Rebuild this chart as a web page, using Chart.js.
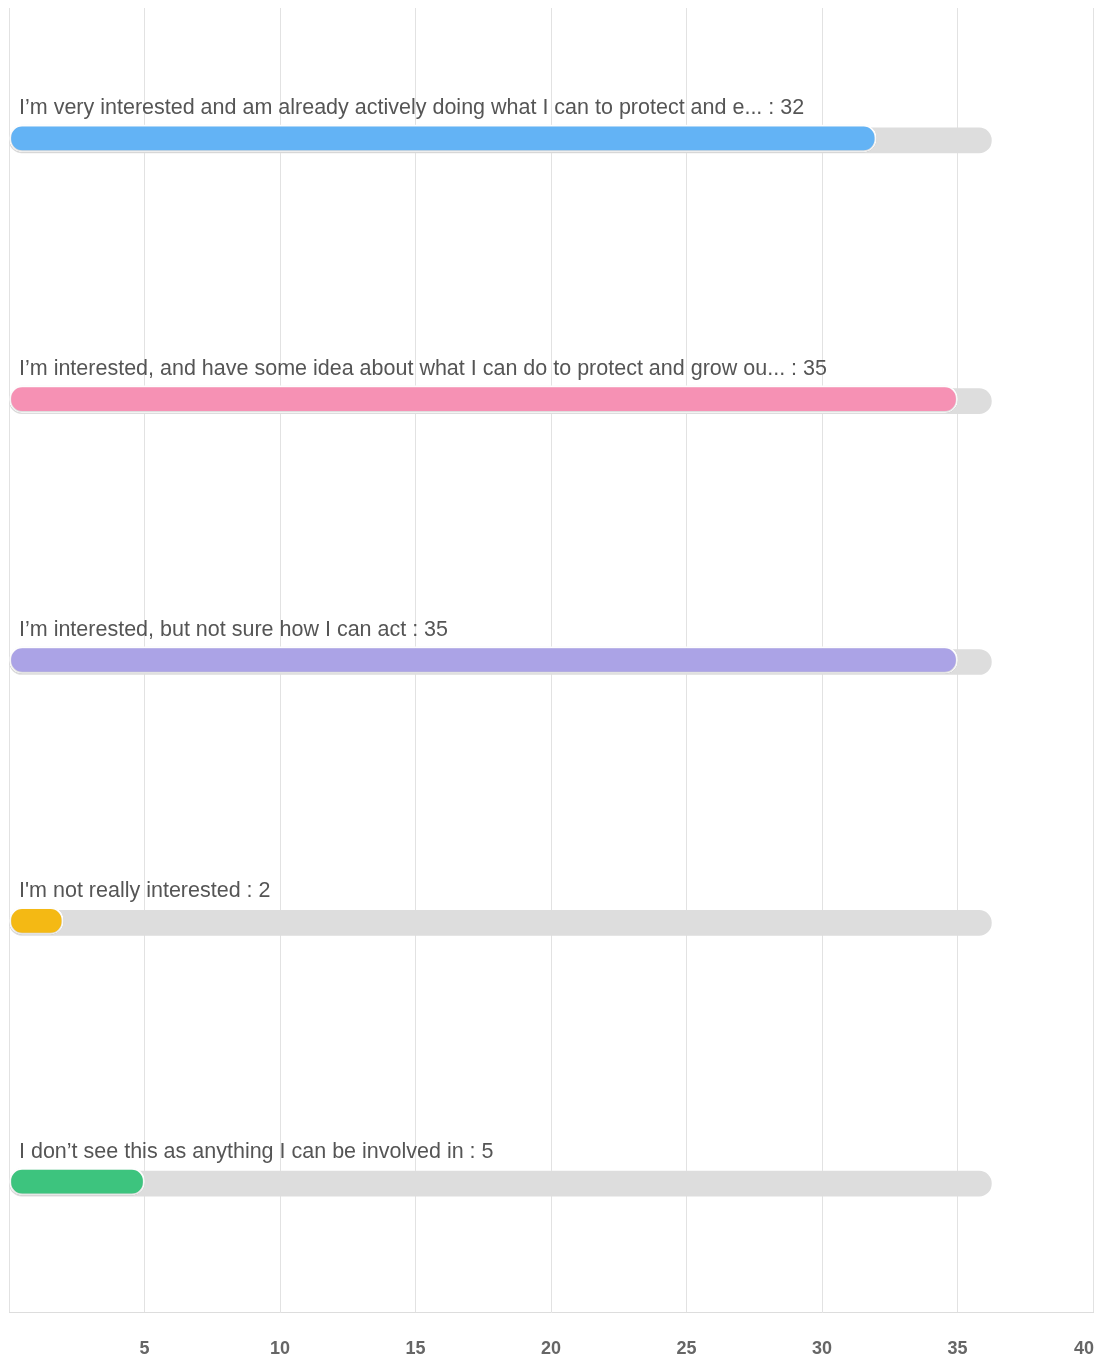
<!DOCTYPE html>
<html>
<head>
<meta charset="utf-8">
<script src="https://cdn.jsdelivr.net/npm/chart.js@4/dist/chart.umd.min.js"></script>
<style>
     html, body { margin: 0; padding: 0; background: #fff; overflow: hidden; }
     #wrap { width: 1097px; height: 1364px; }
</style>
</head>
<body>
<div id="wrap"><canvas id="answersChart"></canvas></div>
<script>
const categories = [
     'I\u2019m very interested and am already actively doing what I can to protect and e...',
     'I\u2019m interested, and have some idea about what I can do to protect and grow ou...',
     'I\u2019m interested, but not sure how I can act',
     'I\'m not really interested',
     'I don\u2019t see this as anything I can be involved in'
];
const counts = [32, 35, 35, 2, 5];
const trackMax = [36.25, 36.25, 36.25, 36.25, 36.25];
const barColors = ['#63b3f5', '#f691b4', '#aba3e6', '#f4b914', '#3dc47e'];
const tickValues = [5, 10, 15, 20, 25, 30, 35, 40];

// draws the "answer : count" text above each bar
const answerLabels = {
     id: 'answerLabels',
     afterDatasetsDraw(chart) {
          const ctx = chart.ctx;
          const meta = chart.getDatasetMeta(0);
          ctx.save();
          ctx.font = '21.5px "Liberation Sans", Arial, sans-serif';
          ctx.fillStyle = '#555555';
          ctx.textBaseline = 'alphabetic';
          ctx.textAlign = 'left';
          meta.data.forEach(function (bar, i) {
               ctx.fillText(categories[i] + ' : ' + counts[i], chart.chartArea.left + 10, bar.y - 24);
          });
          ctx.restore();
     }
};

// gray track sits a touch lower, coloured bars get a soft shadow
const barOffsets = {
     id: 'barOffsets',
     beforeDatasetDraw(chart, args) {
          const ctx = chart.ctx;
          ctx.save();
          if (args.index === 1) {
               ctx.translate(0, 2);
          } else {
               ctx.shadowColor = 'rgba(0, 0, 0, 0.18)';
               ctx.shadowBlur = 2;
               ctx.shadowOffsetY = 1;
          }
     },
     afterDatasetDraw(chart) {
          chart.ctx.restore();
     }
};

// x tick labels, the last one kept inside the canvas
const xTickLabels = {
     id: 'xTickLabels',
     afterDraw(chart) {
          const ctx = chart.ctx;
          const x = chart.scales.x;
          ctx.save();
          ctx.font = 'bold 18px "Liberation Sans", Arial, sans-serif';
          ctx.fillStyle = '#666666';
          ctx.textBaseline = 'middle';
          tickValues.forEach(function (v, i) {
               const px = x.getPixelForValue(v);
               const last = i === tickValues.length - 1;
               ctx.textAlign = last ? 'right' : 'center';
               ctx.fillText(String(v), last ? px + 1 : px, chart.chartArea.bottom + 37);
          });
          ctx.restore();
     }
};

document.addEventListener('DOMContentLoaded', function () {
     const ctx = document.getElementById('answersChart').getContext('2d');
     new Chart(ctx, {
          type: 'bar',
          data: {
               labels: categories,
               datasets: [{
                    label: 'Count',
                    data: counts,
                    backgroundColor: barColors,
                    borderColor: '#ffffff',
                    borderWidth: 2,
                    borderRadius: 13,
                    borderSkipped: false,
                    barThickness: 27,
                    order: 0
               }, {
                    label: 'Track',
                    data: trackMax,
                    backgroundColor: '#dddddd',
                    borderWidth: 0,
                    borderRadius: 13,
                    borderSkipped: false,
                    barThickness: 25,
                    order: 1
               }]
          },
          plugins: [barOffsets, answerLabels, xTickLabels],
          options: {
               indexAxis: 'y',
               responsive: true,
               maintainAspectRatio: false,
               animation: false,
               layout: {
                    padding: { left: 9, right: 4, top: 8, bottom: 52 }
               },
               datasets: {
                    bar: { grouped: false }
               },
               plugins: {
                    legend: { display: false },
                    tooltip: { enabled: false }
               },
               scales: {
                    x: {
                         min: 0,
                         max: 40,
                         ticks: { display: false, stepSize: 5 },
                         grid: { color: '#e2e2e2', lineWidth: 1, drawTicks: false },
                         border: { display: true, color: '#dddddd' }
                    },
                    y: {
                         display: false
                    }
               }
          }
     });
});
</script>
</body>
</html>
